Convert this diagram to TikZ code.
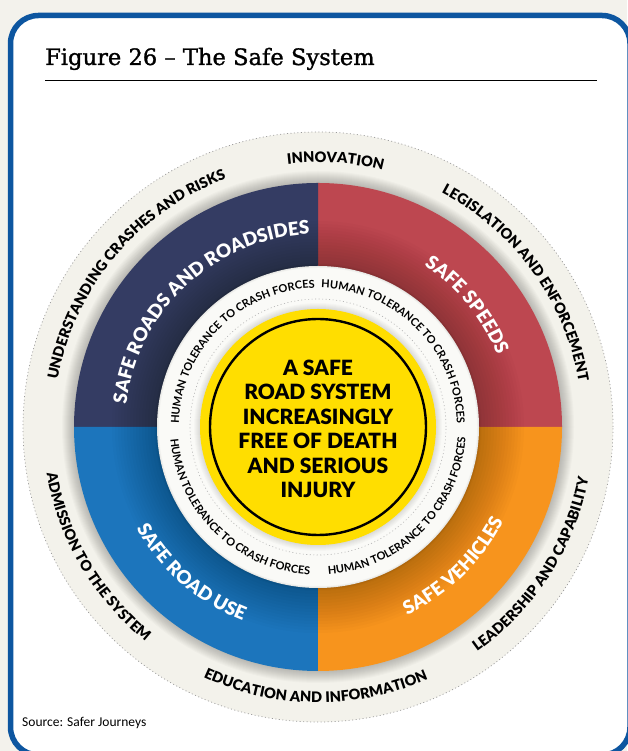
\documentclass[tikz,border=0pt]{standalone}
\usepackage{fontspec}
\usetikzlibrary{decorations.text}
\setmainfont{Lato}
\newfontfamily\heavyfont{Lato Black}
\newfontfamily\titlefont[FakeBold=1.2]{DejaVu Serif}
\newfontfamily\sourcefont{Carlito}
\definecolor{framebl}{RGB}{13,86,160}
\definecolor{paper}{RGB}{243,242,236}
\definecolor{ringcol}{RGB}{243,242,235}
\definecolor{roadsnavy}{RGB}{52,60,99}
\definecolor{speedred}{RGB}{189,71,80}
\definecolor{useblue}{RGB}{28,117,188}
\definecolor{vehorange}{RGB}{247,148,29}
\definecolor{coreyellow}{RGB}{255,222,0}
\newcommand{\outerfont}{\heavyfont\fontsize{14.5}{15}\selectfont}
\newcommand{\sectorfont}{\color{white}\heavyfont\fontsize{18.7}{20}\selectfont}
\newcommand{\tolfont}{\bfseries\fontsize{11}{11}\selectfont}
\newcommand{\cwlabel}[4]{\path[decorate,decoration={text along path,text align=center,text={|#3|#4}}] (#2+80:#1) arc[start angle=#2+80,end angle=#2-80,radius=#1];}
\newcommand{\ccwlabel}[4]{\path[decorate,decoration={text along path,text align=center,text={|#3|#4}}] (#2-80:#1) arc[start angle=#2-80,end angle=#2+80,radius=#1];}

\begin{document}
\begin{tikzpicture}[x=1pt,y=1pt]
\useasboundingbox (0,0) rectangle (627,751);
\fill[paper] (0,0) rectangle (627,751);
\draw[framebl, line width=5.5pt, fill=white, rounded corners=28pt] (10.5,-4) rectangle (630,735.5);
\node[anchor=base west, inner sep=0pt, font=\titlefont\fontsize{22.6}{26}\selectfont] (title) at (45,686) {Figure 26 – The Safe System};
\draw[line width=0.9pt] (45,671) -- (597,671);
\begin{scope}[shift={(318,324)}]
\fill[ringcol] (0,0) circle[radius=295];
\draw[black!40, line width=0.7pt, dash pattern=on 1pt off 2.5pt] (0,0) circle[radius=295];
\foreach \k in {1,...,12} {\fill[black, opacity=0.02] (0,0) circle[radius=244+\k];}
\fill[speedred] (0,0) -- (0:244) arc[start angle=0, end angle=90, radius=244] -- cycle;
\fill[roadsnavy] (0,0) -- (90:244) arc[start angle=90, end angle=180, radius=244] -- cycle;
\fill[useblue] (0,0) -- (180:244) arc[start angle=180, end angle=270, radius=244] -- cycle;
\fill[vehorange] (0,0) -- (270:244) arc[start angle=270, end angle=360, radius=244] -- cycle;
\foreach \k in {1,...,15} {\fill[black, opacity=0.014] (0,0) circle[radius=161+3*\k];}
\fill[white!60!ringcol] (0,0) circle[radius=161];
\foreach \k in {1,...,4} {\draw[black, opacity=0.02, line width=\k pt] (0,0) circle[radius=161];}
\draw[black!30, line width=0.6pt, dash pattern=on 1pt off 2.5pt] (0,0) circle[radius=128];
\foreach \k in {1,...,6} {\fill[black, opacity=0.02] (0,0) circle[radius=118+\k];}
\fill[coreyellow] (0,0) circle[radius=118];
\draw[line width=2.4pt] (0,0) circle[radius=108];
\node[align=center, font=\heavyfont\fontsize{21}{24.5}\selectfont] (core) at (0,-2) {A SAFE\\ROAD SYSTEM\\INCREASINGLY\\FREE OF DEATH\\AND SERIOUS\\INJURY};
\cwlabel{264.6}{140}{\outerfont}{UNDERSTANDING CRASHES AND RISKS}
\cwlabel{264.6}{86.2}{\outerfont}{INNOVATION}
\cwlabel{264.6}{36}{\outerfont}{LEGISLATION AND ENFORCEMENT}
\ccwlabel{275.4}{-32.7}{\outerfont}{LEADERSHIP AND CAPABILITY}
\ccwlabel{275.4}{-90.5}{\outerfont}{EDUCATION AND INFORMATION}
\ccwlabel{275.4}{210.5}{\outerfont}{ADMISSION TO THE SYSTEM}
\cwlabel{193}{132.8}{\sectorfont}{SAFE ROADS AND ROADSIDES}
\cwlabel{193}{39.2}{\sectorfont}{SAFE SPEEDS}
\ccwlabel{208}{229}{\sectorfont}{SAFE ROAD USE}
\ccwlabel{208}{-45.8}{\sectorfont}{SAFE VEHICLES}
\cwlabel{139}{135}{\tolfont}{HUMAN TOLERANCE TO CRASH FORCES}
\cwlabel{139}{45}{\tolfont}{HUMAN TOLERANCE TO CRASH FORCES}
\ccwlabel{148}{225.8}{\tolfont}{HUMAN TOLERANCE TO CRASH FORCES}
\ccwlabel{148}{-45}{\tolfont}{HUMAN TOLERANCE TO CRASH FORCES}
\end{scope}
\node[anchor=base west, inner sep=0pt, font=\sourcefont\fontsize{13.5}{16}\selectfont] (source) at (22,24) {Source: Safer Journeys};
\end{tikzpicture}
\end{document}
